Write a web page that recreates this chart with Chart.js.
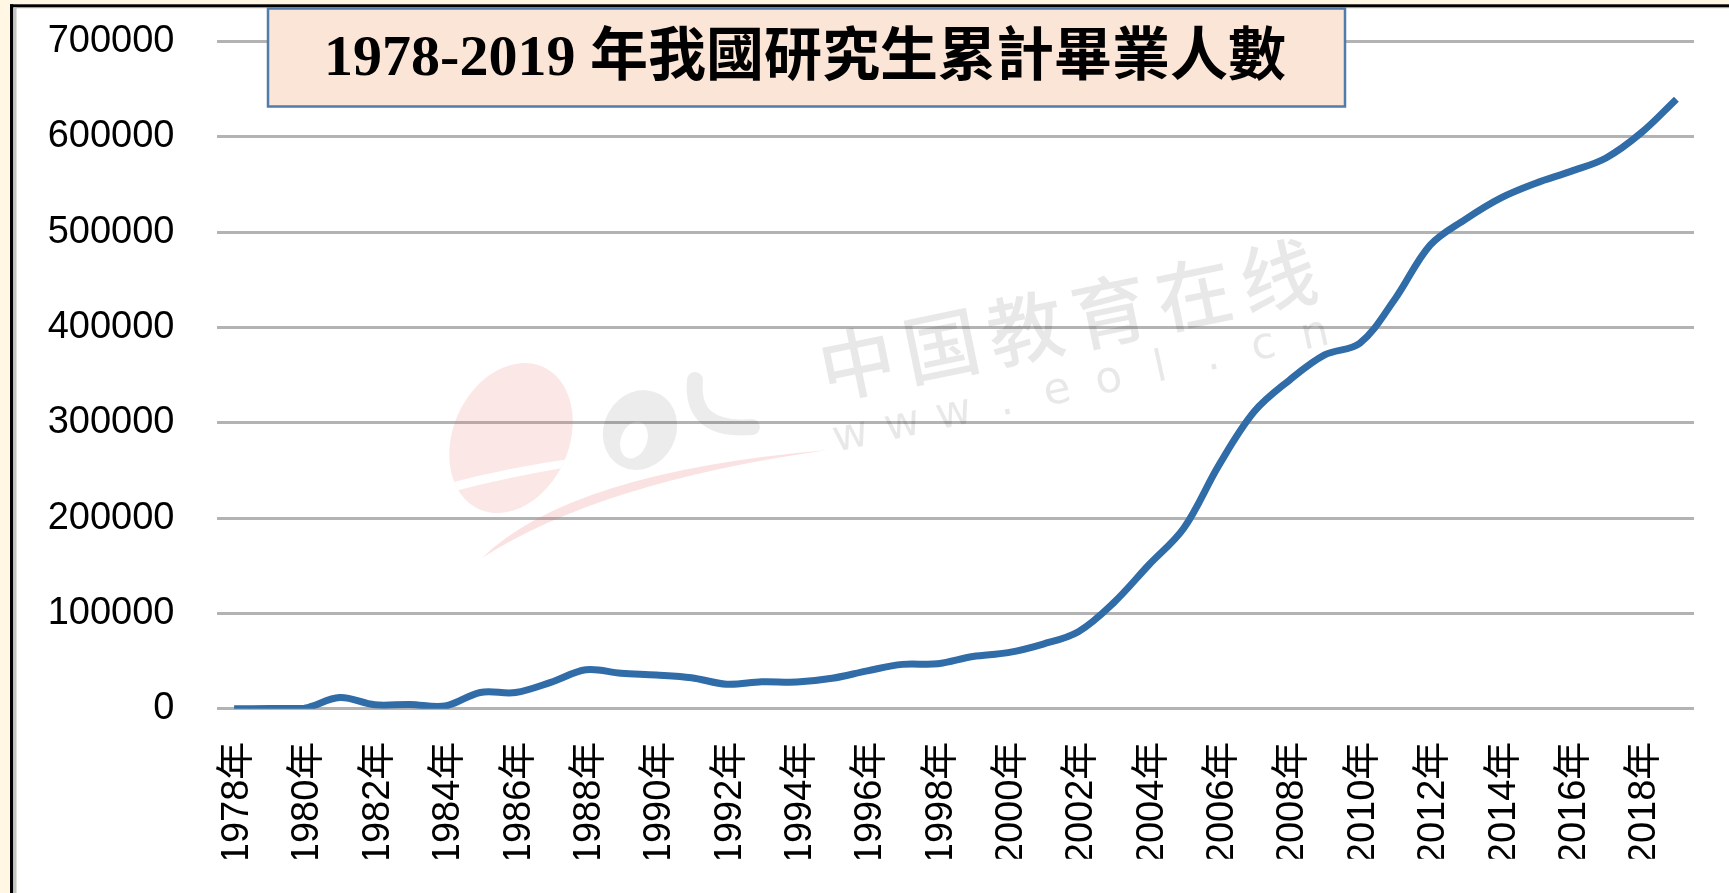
<!DOCTYPE html>
<html><head><meta charset="utf-8">
<script src="https://cdn.jsdelivr.net/npm/chart.js@4/dist/chart.umd.min.js"></script>
<style>html,body{margin:0;padding:0;background:#fff;overflow:hidden}canvas{display:block}</style>
</head><body>
<canvas id="c" width="1729" height="893"></canvas>
<script>
// ---- data ----
const categories = ['1978年','1979年','1980年','1981年','1982年','1983年','1984年','1985年','1986年','1987年',
  '1988年','1989年','1990年','1991年','1992年','1993年','1994年','1995年','1996年','1997年',
  '1998年','1999年','2000年','2001年','2002年','2003年','2004年','2005年','2006年','2007年',
  '2008年','2009年','2010年','2011年','2012年','2013年','2014年','2015年','2016年','2017年',
  '2018年','2019年'];
const graduates = [0, 100, 500, 11700, 4100, 4500, 2800, 17000, 17000, 27600,
  40800, 37200, 35400, 32500, 25700, 28200, 28000, 31900, 39700, 46500,
  47100, 54700, 58800, 67800, 80800, 111100, 150800, 189700, 255900, 311800,
  344800, 371300, 383600, 430000, 486500, 513600, 535900, 551500, 563900, 578000,
  604400, 639700];
const yTickValues = [0, 100000, 200000, 300000, 400000, 500000, 600000, 700000];
const titleText = '1978-2019 年我國研究生累計畢業人數';
const watermarkCN = ['中','国','教','育','在','线'];
const watermarkURL = ['w','w','w','.','e','o','l','.','c','n'];

const W = 1729, H = 893;

const bgPlugin = {
  id: 'bg',
  beforeDraw(chart) {
    const ctx = chart.ctx;
    ctx.save();
    ctx.fillStyle = '#fff7e4'; ctx.fillRect(0, 0, W, H);
    ctx.fillStyle = '#000'; ctx.fillRect(10, 4.3, W - 10, 3.2); ctx.fillRect(10, 4.3, 3.3, H);
    ctx.fillStyle = '#c4c4c4'; ctx.fillRect(13.3, 7.5, 3.4, H); ctx.fillRect(13.3, 7.5, W, 1);
    ctx.fillStyle = '#fff'; ctx.fillRect(16.7, 8.5, W - 16.7, H - 8.5);
    ctx.restore();
  }
};

const watermarkPlugin = {
  id: 'watermark',
  beforeDatasetsDraw(chart) {
    const ctx = chart.ctx;
    ctx.save();
    // pink "e" with a white cut clipped to it
    ctx.save();
    ctx.beginPath();
    ctx.ellipse(511, 438, 58, 78, 0.42, 0, Math.PI * 2);
    ctx.fillStyle = 'rgba(235,110,110,0.17)';
    ctx.fill();
    ctx.clip();
    ctx.fillStyle = '#fff';
    ctx.beginPath();
    ctx.moveTo(425, 490); ctx.quadraticCurveTo(505, 466, 600, 455);
    ctx.lineTo(600, 462); ctx.quadraticCurveTo(505, 476, 425, 499);
    ctx.closePath(); ctx.fill();
    ctx.restore();
    // pink swoosh
    ctx.fillStyle = 'rgba(235,110,110,0.2)';
    ctx.beginPath();
    ctx.moveTo(482, 558); ctx.quadraticCurveTo(570, 472, 828, 450);
    ctx.quadraticCurveTo(600, 482, 482, 558);
    ctx.closePath(); ctx.fill();
    // gray "o"
    ctx.fillStyle = 'rgba(0,0,0,0.075)';
    ctx.beginPath();
    ctx.ellipse(640, 430, 36, 41, 0.5, 0, Math.PI * 2);
    ctx.ellipse(634, 440, 13, 19, 0.35, 0, Math.PI * 2, true);
    ctx.fill('evenodd');
    // gray "L"
    ctx.strokeStyle = 'rgba(0,0,0,0.075)';
    ctx.lineWidth = 16; ctx.lineCap = 'round';
    ctx.beginPath();
    ctx.moveTo(695, 380); ctx.quadraticCurveTo(690, 432, 752, 427);
    ctx.stroke();
    // Chinese text
    ctx.fillStyle = 'rgba(0,0,0,0.09)';
    ctx.textAlign = 'center'; ctx.textBaseline = 'middle';
    ctx.font = '500 76px "Noto Sans CJK SC"';
    ctx.translate(857, 363);
    ctx.rotate(-0.203);
    watermarkCN.forEach((ch, i) => ctx.fillText(ch, i * 86, 0));
    ctx.restore();
    ctx.save();
    ctx.fillStyle = 'rgba(0,0,0,0.09)';
    ctx.textAlign = 'center'; ctx.textBaseline = 'middle';
    ctx.font = '44px "DejaVu Sans"';
    ctx.translate(851, 437);
    ctx.rotate(-0.215);
    watermarkURL.forEach((ch, i) => ctx.fillText(ch, i * 52.8, 0));
    ctx.restore();
  }
};

const titlePlugin = {
  id: 'titlebox',
  afterDraw(chart) {
    const ctx = chart.ctx;
    ctx.save();
    ctx.fillStyle = '#fbe5d6';
    ctx.fillRect(268, 8.5, 1077, 98);
    ctx.strokeStyle = '#4f7cab';
    ctx.lineWidth = 2.5;
    ctx.strokeRect(268, 8.5, 1077, 98);
    ctx.fillStyle = '#000';
    ctx.font = 'bold 58px "Liberation Serif", "Noto Sans CJK TC"';
    ctx.textAlign = 'center';
    ctx.textBaseline = 'middle';
    ctx.fillText(titleText, 805, 60);
    ctx.restore();
  }
};

new Chart(document.getElementById('c'), {
  type: 'line',
  data: {
    labels: categories,
    datasets: [{
      data: graduates,
      borderColor: '#2f6ca8',
      borderWidth: 7,
      pointRadius: 0,
      tension: 0.35,
      fill: false,
      borderJoinStyle: 'round'
    }]
  },
  options: {
    responsive: false,
    animation: false,
    devicePixelRatio: 1,
    layout: { padding: { left: 47.5, right: 35, top: 41.7, bottom: 34.3 } },
    plugins: { legend: { display: false }, tooltip: { enabled: false }, title: { display: false } },
    scales: {
      x: {
        offset: true,
        grid: { display: false, drawTicks: false },
        border: { display: false },
        afterFit: s => { s.height = 150; s.paddingLeft = 0; s.paddingRight = 0; },
        ticks: {
          autoSkip: false, minRotation: 90, maxRotation: 90, padding: 33, labelOffset: 3.5,
          color: '#000',
          font: { family: '"Liberation Sans", "Noto Sans CJK SC"', size: 38 },
          callback: (v, i) => (i % 2 === 0 ? categories[i] : '')
        }
      },
      y: {
        min: 0, max: 700000,
        afterBuildTicks: s => { s.ticks = yTickValues.map(v => ({ value: v })); },
        afterFit: s => { s.width = 169; s.paddingTop = 0; s.paddingBottom = 0; },
        grid: { color: '#b3b3b3', lineWidth: 3, drawTicks: false },
        border: { display: false },
        ticks: {
          padding: 42, color: '#000',
          font: { family: '"Liberation Sans"', size: 38 },
          callback: v => String(v)
        }
      }
    }
  },
  plugins: [bgPlugin, watermarkPlugin, titlePlugin]
});
</script>
</body></html>
